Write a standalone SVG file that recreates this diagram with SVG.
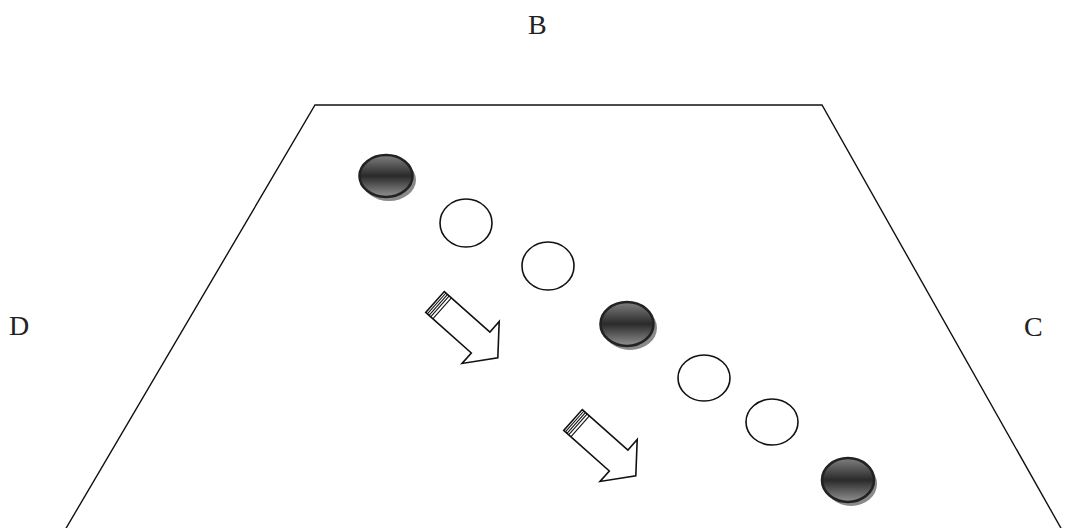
<svg xmlns="http://www.w3.org/2000/svg" width="1070" height="528" viewBox="0 0 1070 528">
<style>
.edge{fill:none;stroke:#111;stroke-width:1.4}
.lbl{font-family:"Liberation Serif","Times New Roman",serif;font-size:28px;fill:#222}
.open{fill:#fff;stroke:#111;stroke-width:1.6}
.dark{fill:url(#g);stroke:#222;stroke-width:2.6}
.shadow{fill:#8a8a8a}
.arrow{fill:#fff;stroke:#111;stroke-width:1.6;stroke-linejoin:miter}
.stripe{stroke:#111;stroke-width:1.1}
</style>
<defs>
<linearGradient id="g" x1="0" y1="0" x2="0" y2="1">
<stop offset="0" stop-color="#808080"/>
<stop offset="0.5" stop-color="#2a2a2a"/>
<stop offset="1" stop-color="#929292"/>
</linearGradient>
<g id="blockArrow">
<path class="arrow" d="M0,-14 L61,-14 L61,-28 L84,0 L61,28 L61,14 L0,14 Z"/>
<line class="stripe" x1="2.2" y1="-14" x2="2.2" y2="14"/>
<line class="stripe" x1="4.4" y1="-14" x2="4.4" y2="14"/>
<line class="stripe" x1="6.6" y1="-14" x2="6.6" y2="14"/>
<line class="stripe" x1="9.5" y1="-14" x2="9.5" y2="14"/>
</g>
</defs>
<rect width="1070" height="528" fill="#fff"/>
<g id="field">
<path class="edge" d="M65,530 L315,105 L822,105 L1062,530"/>
</g>
<g id="labels">
<text id="B" class="lbl" x="528" y="34">B</text>
<text id="D" class="lbl" x="9" y="335">D</text>
<text id="C" class="lbl" x="1024" y="336">C</text>
</g>
<g id="stone1"><ellipse class="shadow" cx="389" cy="180" rx="27" ry="21"/><ellipse class="dark" cx="386" cy="176" rx="26.5" ry="21"/></g>
<g id="circle1"><ellipse class="open" cx="466" cy="223" rx="26" ry="24"/></g>
<g id="circle2"><ellipse class="open" cx="548" cy="266" rx="26" ry="24"/></g>
<g id="stone2"><ellipse class="shadow" cx="630" cy="328" rx="27" ry="22"/><ellipse class="dark" cx="627" cy="324" rx="26.5" ry="22"/></g>
<g id="circle3"><ellipse class="open" cx="704" cy="378" rx="26" ry="23"/></g>
<g id="circle4"><ellipse class="open" cx="772" cy="422" rx="26" ry="23"/></g>
<g id="stone3"><ellipse class="shadow" cx="851" cy="484" rx="26" ry="22"/><ellipse class="dark" cx="848" cy="480" rx="26" ry="22"/></g>
<g id="connectors">
<use href="#blockArrow" transform="translate(435,302) rotate(41.6)"/>
<use href="#blockArrow" transform="translate(573,420) rotate(41.6)"/>
</g>
</svg>
